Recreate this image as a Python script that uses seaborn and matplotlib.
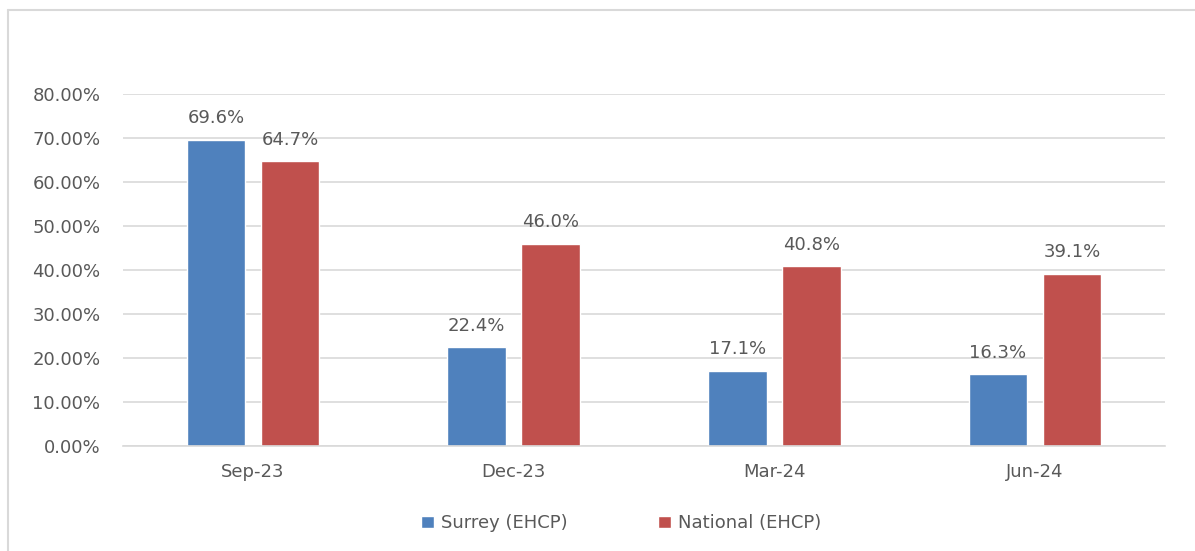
import pandas as pd
import matplotlib.pyplot as plt
import seaborn as sns
from matplotlib.lines import Line2D
from matplotlib.ticker import FuncFormatter

periods = ["Sep-23", "Dec-23", "Mar-24", "Jun-24"]
surrey = [69.6, 22.4, 17.1, 16.3]
national = [64.7, 46.0, 40.8, 39.1]
series_names = ["Surrey (EHCP)", "National (EHCP)"]

df = pd.DataFrame({
    "period": periods * 2,
    "value": [v / 100 for v in surrey + national],
    "series": [series_names[0]] * 4 + [series_names[1]] * 4,
})

sns.set_style("white")
plt.rcParams['font.family'] = ['DejaVu Sans']
text_grey = "#595959"

fig = plt.figure(figsize=(11.95, 5.51), dpi=100)
ax = fig.add_axes([122.7 / 1195, 1 - 446 / 551, (1165.3 - 122.7) / 1195, 352 / 551])

# chart frame, cropped at right and bottom in the original
fx, fy = 8 / 1195, 1 - 10 / 551
fig.add_artist(Line2D([fx, fx], [0, fy], transform=fig.transFigure, color="#D9D9D9", lw=1.5))
fig.add_artist(Line2D([fx, 1], [fy, fy], transform=fig.transFigure, color="#D9D9D9", lw=1.5))

palette = {series_names[0]: "#4F81BD", series_names[1]: "#C0504D"}
sns.barplot(data=df, x="period", y="value", hue="series", palette=palette,
            width=0.568, gap=0.21, saturation=1, ax=ax, legend=True)

ax.set_ylim(0, 0.8)
ax.set_xlim(-0.5, 3.5)
ax.set_yticks([i / 10 for i in range(9)])
ax.yaxis.set_major_formatter(FuncFormatter(lambda v, _: f"{v * 100:.2f}%"))
ax.grid(axis="y", color="#D9D9D9", linewidth=1.2)
ax.set_axisbelow(True)
for s in ["top", "right", "left"]:
    ax.spines[s].set_visible(False)
ax.spines["bottom"].set_color("#D9D9D9")
ax.spines["bottom"].set_linewidth(1.2)
ax.tick_params(axis="both", length=0, labelsize=13, colors=text_grey)
ax.tick_params(axis="y", pad=16)
ax.tick_params(axis="x", pad=12)
ax.set_xlabel("")
ax.set_ylabel("")

for cont in ax.containers:
    ax.bar_label(cont, labels=[f"{b.get_height() * 100:.1f}%" for b in cont],
                 padding=9, fontsize=13, color=text_grey)

handles, labels = ax.get_legend_handles_labels()
ax.legend_.remove()
fig.legend(handles, labels, loc="center", bbox_to_anchor=(0.52, 0.05), ncol=2,
           frameon=False, fontsize=13, labelcolor=text_grey, handlelength=0.7,
           handleheight=0.7, handletextpad=0.4, columnspacing=5)

fig.savefig("out.png", dpi=100)
